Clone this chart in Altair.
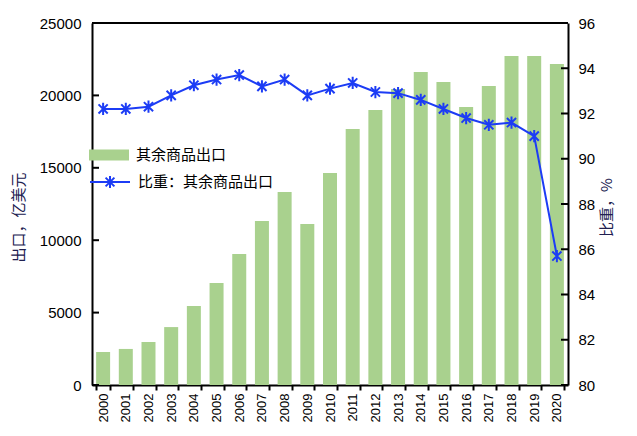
import altair as alt
import pandas as pd

years = [str(y) for y in range(2000, 2021)]
exports = [2280, 2490, 2970, 4000, 5460, 7040, 9050, 11330, 13330, 11120, 14640,
           17680, 18990, 20440, 21620, 20930, 19200, 20650, 22720, 22720, 22170]
share = [92.2, 92.2, 92.3, 92.8, 93.25, 93.5, 93.7, 93.2, 93.5, 92.8, 93.1,
         93.35, 92.95, 92.9, 92.6, 92.2, 91.8, 91.5, 91.6, 91.0, 85.7]
bar_name = "其余商品出口"
line_name = "比重：其余商品出口"
left_title = "出口，亿美元"
right_title = "比重，%"
left_ticks = [0, 5000, 10000, 15000, 20000, 25000]
right_ticks = [80, 82, 84, 86, 88, 90, 92, 94, 96]

BAR_COLOR = "#a9d18e"
LINE_COLOR = "#1c3cf5"
TITLE_COLOR = "#202050"
NUM_FONT = "Liberation Sans"
CJK_FONT = "Noto Sans CJK SC"
W, H = 476, 362

ASTERISK = "M0,-1V1M-0.75,-0.75L0.75,0.75M-0.75,0.75L0.75,-0.75"
LEG_BAR = "M-1,-0.28H1V0.28H-1Z"
LEG_LINE = "M-1,0H1M0,-0.3V0.3M-0.22,-0.22L0.22,0.22M-0.22,0.22L0.22,-0.22"

df = pd.DataFrame({"year": years, "exports": exports, "share": share,
                   "s1": bar_name, "s2": line_name})
left_df = pd.DataFrame({"v": left_ticks})
right_df = pd.DataFrame({"v": right_ticks})

left_scale = alt.Scale(domain=[0, 25000], nice=False)
right_scale = alt.Scale(domain=[80, 96], nice=False, zero=False)

x_enc = alt.X("year:N",
              scale=alt.Scale(paddingInner=0.38, paddingOuter=0.18),
              axis=alt.Axis(title=None, labelAngle=-90, tickBand="extent",
                            labelFont=NUM_FONT, labelFontSize=13, labelColor="black",
                            tickColor="black", tickSize=5, tickWidth=2,
                            domainColor="black", domainWidth=2, labelPadding=3))

bars = alt.Chart(df).mark_bar(size=14).encode(
    x=x_enc,
    y=alt.Y("exports:Q", scale=left_scale,
            axis=alt.Axis(title=left_title, values=left_ticks, format="d",
                          grid=False, ticks=False, labelFont=NUM_FONT, labelFontSize=15,
                          labelColor="black", domainColor="black", domainWidth=2,
                          labelPadding=11,
                          titleFont=CJK_FONT, titleFontSize=15, titleFontWeight="normal",
                          titleColor=TITLE_COLOR, titlePadding=13, titleY=194)),
    color=alt.Color("s1:N",
                    scale=alt.Scale(domain=[bar_name], range=[BAR_COLOR]),
                    legend=alt.Legend(title=None, orient="none", legendX=-3, legendY=112,
                                      symbolType=LEG_BAR, symbolSize=1600,
                                      symbolStrokeWidth=0, labelOffset=7,
                                      labelFont=CJK_FONT, labelFontSize=15,
                                      labelColor="black", padding=0)),
)

line = alt.Chart(df).mark_line(
    strokeWidth=2,
    point=alt.OverlayMarkDef(shape=ASTERISK, filled=False, size=150, strokeWidth=2),
).encode(
    x=alt.X("year:N"),
    y=alt.Y("share:Q", scale=right_scale,
            axis=alt.Axis(title=right_title, orient="right", values=right_ticks,
                          grid=False, ticks=False, labelFont=NUM_FONT, labelFontSize=15,
                          labelColor="black", domainColor="black", domainWidth=2,
                          labelPadding=10,
                          titleFont=CJK_FONT, titleFontSize=15, titleFontWeight="normal",
                          titleColor=TITLE_COLOR, titlePadding=20, titleAngle=270,
                          titleY=184)),
    color=alt.Color("s2:N",
                    scale=alt.Scale(domain=[line_name], range=[LINE_COLOR]),
                    legend=alt.Legend(title=None, orient="none", legendX=-3, legendY=138,
                                      symbolType=LEG_LINE, symbolSize=1600,
                                      symbolStrokeWidth=2, labelOffset=7,
                                      labelFont=CJK_FONT, labelFontSize=15,
                                      labelColor="black", padding=0)),
)

# inward tick marks for the two value axes, placed by the same scales
left_in = alt.Chart(left_df).mark_rule(color="black", strokeWidth=2).encode(
    y=alt.Y("v:Q", scale=left_scale, axis=None),
    x=alt.value(0), x2=alt.value(7),
)
right_in = alt.Chart(right_df).mark_rule(color="black", strokeWidth=2).encode(
    y=alt.Y("v:Q", scale=right_scale, axis=None),
    x=alt.value(W - 7), x2=alt.value(W),
)
# top frame line
top_line = alt.Chart(right_df).mark_rule(color="black", strokeWidth=2).encode(
    y=alt.value(0), x=alt.value(0), x2=alt.value(W),
)

chart = alt.layer(bars, line, left_in, right_in, top_line).resolve_scale(
    y="independent", color="independent"
).resolve_legend(color="independent").properties(
    width=W, height=H, background="white",
    autosize=alt.AutoSizeParams(type="none"),
    padding={"left": 84, "top": 15, "right": 61, "bottom": 43},
).configure_view(strokeWidth=0)

chart.save("out.html", embed_options={"renderer": "svg", "actions": False})
